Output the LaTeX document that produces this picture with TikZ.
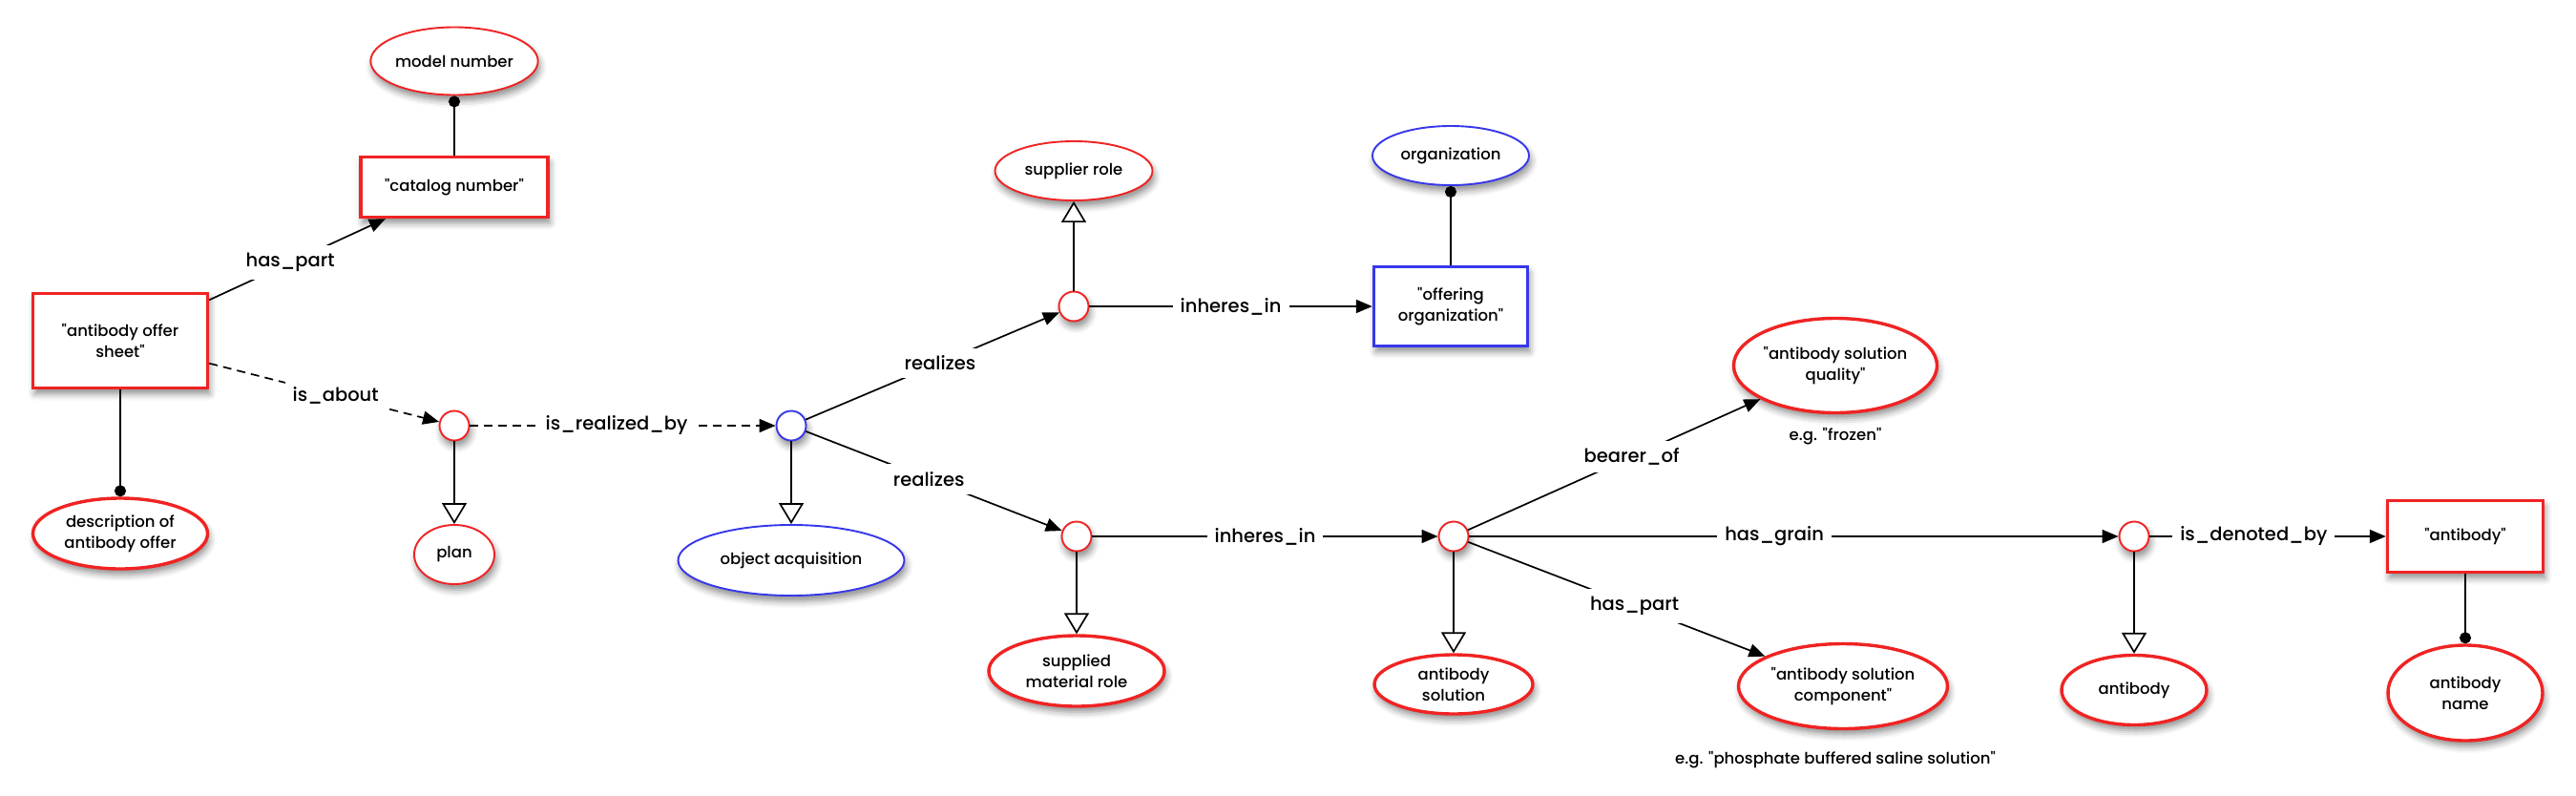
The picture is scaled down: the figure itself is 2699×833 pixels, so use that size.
\documentclass[tikz,border=0pt]{standalone}
\usepackage{fontspec}
\setmainfont{Poppins}[UprightFont=*-Medium]
\usetikzlibrary{positioning,shapes.geometric,arrows.meta,shadows.blur}

\definecolor{clsred}{RGB}{240,35,35}
\definecolor{clsblue}{RGB}{55,55,235}

\tikzstyle{shadowed} = [blur shadow={shadow xshift=2pt, shadow yshift=-6pt, shadow blur radius=7pt, shadow opacity=45}]
\tikzstyle{cls} = [ellipse, draw=clsred, line width=3.4pt, fill=white, inner sep=0pt, align=center, shadowed, font=\fontsize{16.5pt}{22pt}\selectfont]
\tikzstyle{thincls} = [cls, line width=1.9pt]
\tikzstyle{bluecls} = [thincls, draw=clsblue]
\tikzstyle{term} = [rectangle, draw=clsred, line width=3.4pt, fill=white, align=center, shadowed, font=\fontsize{16.5pt}{22pt}\selectfont]
\tikzstyle{blueterm} = [term, draw=clsblue]
\tikzstyle{rel} = [circle, draw=clsred, line width=1.9pt, fill=white, minimum size=31pt, inner sep=0pt, shadowed]
\tikzstyle{bluerel} = [rel, draw=clsblue]
\tikzstyle{note} = [font=\fontsize{16.5pt}{22pt}\selectfont]
\tikzstyle{lbl} = [fill=white, inner sep=8pt, font=\fontsize{19.5pt}{22pt}\selectfont]
\tikzstyle{arrow} = [line width=1.7pt, -{Triangle[length=17pt,width=14pt]}]
\tikzstyle{dasharrow} = [arrow, dash pattern=on 9pt off 6pt]
\tikzstyle{isa} = [line width=1.7pt, -{Triangle[length=22pt,width=26pt,fill=white]}]
\tikzstyle{attr} = [line width=1.7pt, -{Circle[length=12pt]}]

\newcommand{\qt}[1]{\textquotedbl#1\textquotedbl}

\begin{document}
\begin{tikzpicture}[on grid]
    \useasboundingbox (0,0) rectangle (2699pt,-833pt);

    \node (offer-sheet) [term, minimum width=183pt, minimum height=99pt] at (126pt,-357pt) {\textquotedbl antibody offer\\sheet\textquotedbl};

    \node (offer-desc) [cls, minimum width=183pt, minimum height=74pt, below=202pt of offer-sheet] {description of\\antibody offer};
    \draw [attr] (offer-sheet) -- (offer-desc);

    \node (catalog-num) [term, minimum width=196pt, minimum height=63pt, above right=161pt and 350pt of offer-sheet] {\qt{catalog number}};
    \draw [arrow] (offer-sheet) -- node [lbl, pos=0.46] {has\_part} (catalog-num);

    \node (model-num) [thincls, minimum width=165pt, minimum height=71pt, above=132pt of catalog-num] {model number};
    \draw [attr] (catalog-num) -- (model-num);

    \node (plan-inst) [rel, below right=89pt and 350pt of offer-sheet] {};
    \draw [dasharrow] (offer-sheet) -- node [lbl, pos=0.55] {is\_about} (plan-inst);

    \node (plan) [thincls, minimum width=84pt, minimum height=62pt, below=135pt of plan-inst] {plan};
    \draw [isa] (plan-inst) -- (plan);

    \node (acq-inst) [bluerel, right=353pt of plan-inst] {};
    \draw [dasharrow] (plan-inst) -- node [lbl, pos=0.48] {is\_realized\_by} (acq-inst);

    \node (acq) [bluecls, minimum width=237pt, minimum height=74pt, below=141pt of acq-inst] {object acquisition};
    \draw [isa] (acq-inst) -- (acq);

    \node (supplier-inst) [rel, above right=125pt and 296pt of acq-inst] {};
    \draw [arrow] (acq-inst) -- node [lbl, pos=0.53] {realizes} (supplier-inst);

    \node (supplier-role) [thincls, minimum width=165pt, minimum height=62pt, above=142pt of supplier-inst] {supplier role};
    \draw [isa] (supplier-inst) -- (supplier-role);

    \node (offering-org) [blueterm, minimum width=161pt, minimum height=83pt, right=395pt of supplier-inst] {\textquotedbl offering\\organization\textquotedbl};
    \draw [arrow] (supplier-inst) -- node [lbl] {inheres\_in} (offering-org);

    \node (org) [bluecls, minimum width=164pt, minimum height=62pt, above=158pt of offering-org] {organization};
    \draw [attr] (offering-org) -- (org);

    \node (material-inst) [rel, below right=116pt and 299pt of acq-inst] {};
    \draw [arrow] (acq-inst) -- node [lbl, pos=0.48] {realizes} (material-inst);

    \node (material-role) [cls, minimum width=184pt, minimum height=74pt, below=141pt of material-inst] {supplied\\material role};
    \draw [isa] (material-inst) -- (material-role);

    \node (solution-inst) [rel, right=395pt of material-inst] {};
    \draw [arrow] (material-inst) -- node [lbl] {inheres\_in} (solution-inst);

    \node (solution) [cls, minimum width=166pt, minimum height=62pt, below=155pt of solution-inst] {antibody\\solution};
    \draw [isa] (solution-inst) -- (solution);

    \node (quality) [cls, minimum width=210pt, minimum height=99pt, above right=179pt and 400pt of solution-inst] {\textquotedbl antibody solution\\quality\textquotedbl};
    \draw [arrow] (solution-inst) -- node [lbl, pos=0.56] {bearer\_of} (quality);

    \node (frozen-note) [note, below=74pt of quality] {e.g. \qt{frozen}};

    \node (component) [cls, minimum width=219pt, minimum height=89pt, below right=157pt and 408pt of solution-inst] {\textquotedbl antibody solution\\component\textquotedbl};
    \draw [arrow] (solution-inst) -- node [lbl, pos=0.56] {has\_part} (component);

    \node (pbs-note) [note, below left=77pt and 8pt of component] {e.g. \qt{phosphate buffered saline solution}};

    \node (antibody-inst) [rel, right=713pt of solution-inst] {};
    \draw [arrow] (solution-inst) -- node [lbl, pos=0.47] {has\_grain} (antibody-inst);

    \node (antibody) [cls, minimum width=152pt, minimum height=73pt, below=161pt of antibody-inst] {antibody};
    \draw [isa] (antibody-inst) -- (antibody);

    \node (antibody-term) [term, minimum width=163pt, minimum height=75pt, right=347pt of antibody-inst] {\qt{antibody}};
    \draw [arrow] (antibody-inst) -- node [lbl, pos=0.44] {is\_denoted\_by} (antibody-term);

    \node (antibody-name) [cls, minimum width=162pt, minimum height=100pt, below=164pt of antibody-term] {antibody\\name};
    \draw [attr] (antibody-term) -- (antibody-name);

\end{tikzpicture}
\end{document}
